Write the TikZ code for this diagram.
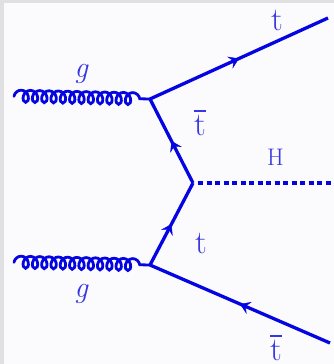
\documentclass[tikz,border=0pt]{standalone}
\usepackage{fontspec}
\usetikzlibrary{decorations.pathmorphing,decorations.markings,arrows.meta}
\definecolor{fline}{RGB}{5,5,225}
\definecolor{ftext}{RGB}{55,55,225}
\definecolor{bggray}{RGB}{224,224,226}
\definecolor{bgfill}{RGB}{251,251,254}
\tikzset{
  fermion/.style={draw=fline, line width=3.3pt, postaction={decorate},
    decoration={markings, mark=at position 0.5 with {\arrow[fline]{Stealth[length=10pt,width=13pt,inset=4pt,line width=0.4pt]}}}},
  antifermion/.style={draw=fline, line width=3.3pt, postaction={decorate},
    decoration={markings, mark=at position 0.5 with {\arrowreversed[fline]{Stealth[length=10pt,width=13pt,inset=4pt,line width=0.4pt]}}}},
  gluon/.style={draw=fline, line width=2.8pt, decorate,
    decoration={coil, amplitude=6pt, segment length=9.3pt, aspect=0.8, pre length=1pt, post length=10pt}},
  scalar/.style={draw=fline, line width=3.3pt, dash pattern=on 5pt off 3.5pt},
  lbl/.style={text=ftext, inner sep=0pt, anchor=base},
  tfont/.style={font=\fontsize{33}{33}\selectfont},
  hfont/.style={font=\fontsize{24}{24}\selectfont},
  gfont/.style={font=\fontsize{30}{30}\selectfont\itshape},
}
\newcommand{\tbar}{\vbox{\hrule height 1.6pt\kern 3pt\hbox{t}}}
\begin{document}
\begin{tikzpicture}[x=1pt,y=-1pt]
  \fill[bggray] (0,0) rectangle (334,364);
  \fill[bgfill] (4,3) rectangle (334,364);
  \useasboundingbox (0,0) rectangle (334,364);
  % vertices and external points
  \coordinate (v1) at (150,99);
  \coordinate (v2) at (150,265);
  \coordinate (v3) at (193,183);
  \coordinate (g1) at (13,96);
  \coordinate (g2) at (13,262);
  \coordinate (tout) at (328,18);
  \coordinate (tbout) at (330,343);
  \coordinate (hout) at (334,183);
  % lines
  \draw[gluon] (g1) -- (v1);
  \draw[gluon] (g2) -- (v2);
  \draw[fermion] (v1) -- (tout);
  \draw[antifermion] (v1) -- (v3);
  \draw[fermion] (v2) -- (v3);
  \draw[antifermion] (v2) -- (tbout);
  \coordinate (hs) at (198,183);
  \draw[scalar] (hs) -- (hout);
  % labels
  \node[lbl,gfont] (lg1) at (81,77) {g};
  \node[lbl,gfont] (lg2) at (81,297) {g};
  \node[lbl,tfont] (lt1) at (277,30) {t};
  \node[lbl,tfont] (ltb1) at (200,135) {\tbar};
  \node[lbl,hfont] (lh) at (275.5,165) {H};
  \node[lbl,tfont] (lt2) at (201,253) {t};
  \node[lbl,tfont] (ltb2) at (276,360) {\tbar};
\end{tikzpicture}
\end{document}
